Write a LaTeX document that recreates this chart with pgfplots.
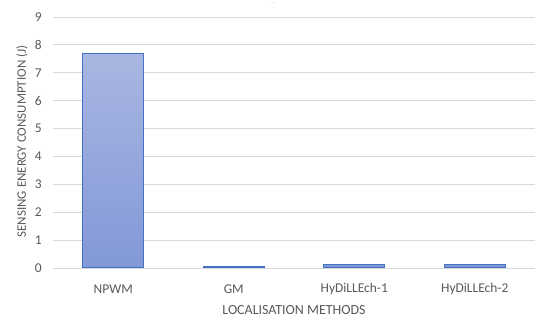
\documentclass[border=0pt]{standalone}
\usepackage{pgfplots}
\pgfplotsset{compat=1.18}
\usepackage{fontspec}
\setmainfont{Carlito}
\definecolor{txt}{HTML}{595959}
\definecolor{gridc}{HTML}{D9D9D9}
\definecolor{bartop}{HTML}{A9B6E1}
\definecolor{barbot}{HTML}{8298D8}
\definecolor{barline}{HTML}{4472C4}
\begin{document}
\begin{tikzpicture}[x=1bp,y=1bp]
\begin{axis}[
  name=ax,
  scale only axis,
  width=482bp, height=251bp,
  ybar, bar width=61bp,
  xmin=-0.5, xmax=3.5,
  ymin=0, ymax=9,
  xtick={0,1,2,3},
  xticklabels={NPWM, GM, HyDiLLEch-1, HyDiLLEch-2},
  ytick={0,1,...,9},
  ymajorgrids,
  grid style={gridc, line width=0.8bp},
  axis line style={draw=none},
  major tick length=0pt,
  tick label style={font=\fontsize{13.5}{15}\selectfont, text=txt},
  /pgf/number format/assume math mode=true,
  yticklabel style={anchor=east, inner sep=0pt, xshift=-11bp},
  xticklabel style={anchor=center, inner sep=0pt, yshift=-21bp},
  xlabel={LOCALISATION METHODS},
  ylabel={SENSING ENERGY CONSUMPTION (J)},
  xlabel style={font=\fontsize{14}{16}\selectfont, text=txt,
    at={(axis description cs:0.5,-0.1673)}, anchor=center},
  ylabel style={font=\fontsize{13}{15}\selectfont, text=txt,
    at={(axis description cs:-0.0643,0.504)}, anchor=center},
]
\addplot[draw=barline, line width=1bp, top color=bartop, bottom color=barbot] coordinates {
  (0, 7.68)
  (1, 0.04)
  (2, 0.11)
  (3, 0.11)
};
\end{axis}
\node[text=gridc, font=\fontsize{8}{8}\selectfont, inner sep=0pt] at ([xshift=-21bp, yshift=13bp]ax.north) {--};
\path (ax.south west) ++(-53bp,-54bp) (ax.north east) ++(15bp,17bp);
\end{tikzpicture}
\end{document}
